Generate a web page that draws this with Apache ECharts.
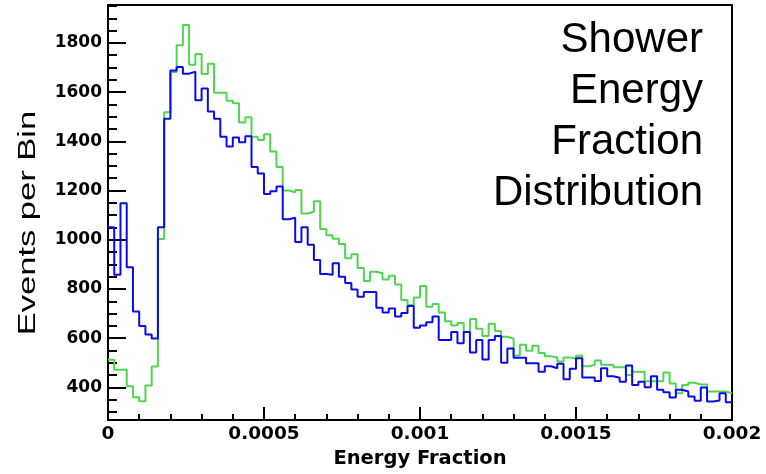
<!DOCTYPE html>
<html><head><meta charset="utf-8">
<script src="https://cdn.jsdelivr.net/npm/echarts/dist/echarts.min.js"></script>
<style>html,body{margin:0;padding:0;background:#fff}#c{width:766px;height:474px}</style>
</head><body><div id="c"></div>
<script>
// Histogram range / binning (100 bins from 0 to 0.002)
const xMin = 0, xMax = 0.002, nBins = 100;
const yMin = 267, yMax = 1954;

const xTickValues = [0, 0.0005, 0.001, 0.0015, 0.002];
const xTickLabels = ['0', '0.0005', '0.001', '0.0015', '0.002'];
const yTickValues = [400, 600, 800, 1000, 1200, 1400, 1600, 1800];
const yTickLabels = ['400', '600', '800', '1000', '1200', '1400', '1600', '1800'];

const titleLines = ['Shower', 'Energy', 'Fraction', 'Distribution'];
const xTitle = 'Energy Fraction';
const yTitle = 'Events per Bin';

// Events per bin, green histogram
const greenCounts = [
  512, 472, 473, 405, 360, 344, 408, 485, 1003, 1518,
  1682, 1790, 1873, 1711, 1755, 1674, 1715, 1597, 1597, 1565,
  1555, 1476, 1498, 1419, 1405, 1429, 1359, 1296, 1200, 1193,
  1202, 1107, 1114, 1156, 1044, 1018, 1004, 983, 925, 941,
  885, 832, 870, 864, 838, 854, 818, 755, 735, 765,
  812, 728, 739, 704, 669, 651, 662, 625, 678, 638,
  609, 659, 629, 606, 598, 530, 573, 549, 569, 540,
  526, 522, 505, 521, 518, 529, 486, 491, 509, 492,
  491, 482, 482, 450, 463, 463, 425, 425, 425, 460,
  416, 376, 410, 419, 412, 412, 383, 383, 383, 376
];
// Events per bin, blue histogram
const blueCounts = [
  1051, 858, 1148, 888, 708, 649, 615, 599, 1051, 1492,
  1688, 1702, 1675, 1683, 1567, 1615, 1521, 1492, 1419, 1379,
  1416, 1396, 1421, 1296, 1269, 1186, 1197, 1216, 1083, 1089,
  991, 1051, 980, 918, 861, 858, 904, 850, 824, 798,
  768, 788, 788, 724, 704, 721, 688, 702, 731, 642,
  651, 665, 688, 593, 593, 625, 579, 625, 542, 593,
  513, 593, 609, 500, 558, 520, 520, 498, 498, 463,
  486, 478, 496, 433, 476, 518, 440, 440, 426, 478,
  445, 439, 423, 489, 410, 423, 400, 445, 390, 380,
  359, 390, 383, 363, 346, 399, 343, 347, 376, 340
];

const binW = (xMax - xMin) / nBins;
function histSteps(counts) {
  const pts = counts.map((c, i) => [xMin + i * binW, c]);
  pts.push([xMax, counts[counts.length - 1]]);
  return pts;
}
function lookup(vals, labels) {
  return function (v) {
    const i = vals.findIndex(t => Math.abs(t - v) < 1e-9);
    return i >= 0 ? labels[i] : '';
  };
}

const chart = echarts.init(document.getElementById('c'), null, {renderer: 'canvas'});
const labelFont = {color: '#000', fontFamily: 'DejaVu Sans', fontWeight: 'bold'};

const titleGraphics = titleLines.map((t, i) => ({
  type: 'text', x: 703, y: 19 + i * 51, z: 10,
  style: {text: t, fill: '#000', font: '42px "Liberation Sans", Arial, sans-serif',
          textAlign: 'right', textVerticalAlign: 'top'}
}));

chart.setOption({
  animation: false,
  backgroundColor: '#fff',
  grid: {left: 108, right: 34, top: 5, bottom: 45, show: true, borderColor: '#000', borderWidth: 2},
  xAxis: {
    type: 'value', min: xMin, max: xMax, interval: 0.0005,
    name: xTitle, nameLocation: 'middle', nameGap: 28,
    nameTextStyle: Object.assign({fontSize: 19.5}, labelFont),
    axisLine: {lineStyle: {color: '#000', width: 2}},
    axisTick: {inside: true, length: 13, lineStyle: {color: '#000', width: 2}},
    minorTick: {show: true, splitNumber: 5, length: 6, lineStyle: {color: '#000', width: 2}},
    splitLine: {show: false},
    axisLabel: Object.assign({fontSize: 18.5, margin: 5, formatter: lookup(xTickValues, xTickLabels)}, labelFont)
  },
  yAxis: [{
    type: 'value', min: yMin, max: yMax, minInterval: 200, maxInterval: 200, position: 'left',
    axisLine: {show: true, lineStyle: {color: '#000', width: 2}},
    axisTick: {inside: true, length: 18, lineStyle: {color: '#000', width: 2}},
    splitLine: {show: false},
    axisLabel: Object.assign({fontSize: 17, margin: 6, showMinLabel: false, showMaxLabel: false,
                              formatter: lookup(yTickValues, yTickLabels)}, labelFont)
  }, {
    type: 'value', min: yMin, max: yMax, minInterval: 50, maxInterval: 50, position: 'left',
    axisLine: {show: false},
    axisTick: {inside: true, length: 9, lineStyle: {color: '#000', width: 2}},
    splitLine: {show: false},
    axisLabel: {show: false}
  }],
  graphic: [{
    type: 'text', x: 29, y: 223, rotation: Math.PI / 2, scaleX: 1.5, scaleY: 1,
    style: {text: yTitle, fill: '#000', font: '23px "Liberation Sans", Arial, sans-serif',
            textAlign: 'center', textVerticalAlign: 'middle'}
  }].concat(titleGraphics),
  series: [{
    name: 'green', type: 'line', step: 'end', yAxisIndex: 0, data: histSteps(greenCounts),
    symbol: 'none', lineStyle: {color: '#4fd64f', width: 2}, z: 2
  }, {
    name: 'blue', type: 'line', step: 'end', yAxisIndex: 0, data: histSteps(blueCounts),
    symbol: 'none', lineStyle: {color: '#0a0af0', width: 2}, z: 3
  }]
});
</script>
</body></html>
